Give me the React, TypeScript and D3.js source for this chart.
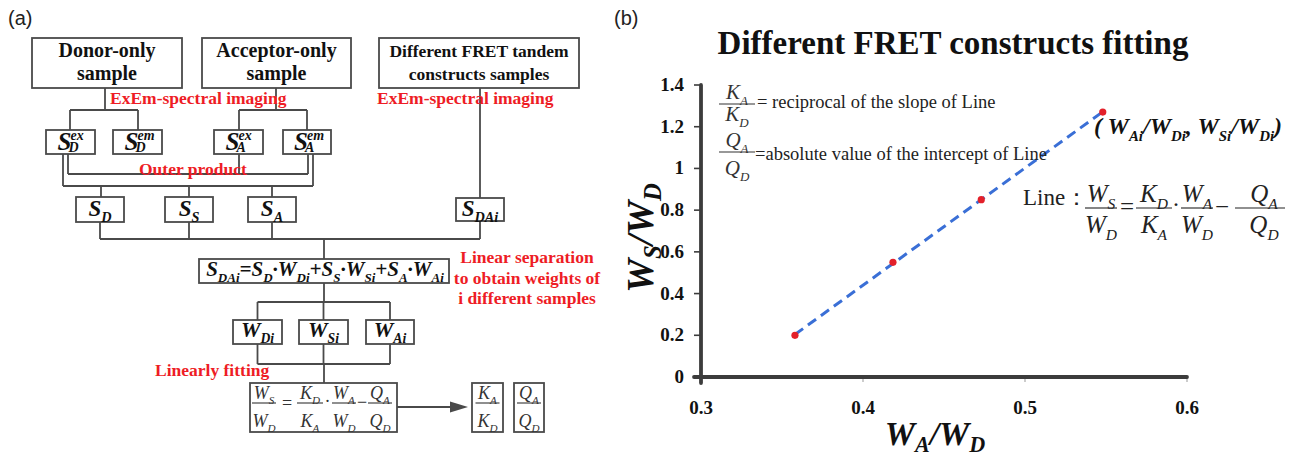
import React from "react";
import * as d3 from "d3";

// ---------- data (panel b) ----------
const pointsX = [0.358, 0.4185, 0.473, 0.548];
const pointsY = [0.2, 0.55, 0.85, 1.27];
const xTickValues = [0.3, 0.4, 0.5, 0.6];
const xTickLabels = ["0.3", "0.4", "0.5", "0.6"];
const yTickValues = [0, 0.2, 0.4, 0.6, 0.8, 1, 1.2, 1.4];
const yTickLabels = ["0", "0.2", "0.4", "0.6", "0.8", "1", "1.2", "1.4"];
const chartTitle = "Different FRET constructs fitting";

const SERIF = "Liberation Serif";
const SANS = "Liberation Sans";
const RED = "#ee1c25";
const STROKE = "#4a4a4a";

type Part = [string, string?];

function Rich(props: any) {
  const {
    x, y, parts, size, anchor = "start", weight = "normal", italic = false,
    fill = "#111", subScale = 0.62, subDy = 0.28, supDy = -0.4, family = SERIF, transform,
  } = props;
  let cur = 0;
  return (
    <text x={x} y={y} textAnchor={anchor} fontFamily={family} fontSize={size}
      fontWeight={weight} fontStyle={italic ? "italic" : "normal"} fill={fill} transform={transform}>
      {parts.map((p: Part, i: number) => {
        const k = p[1] || "n";
        const target = k === "b" ? subDy * size : k === "p" ? supDy * size : 0;
        const dy = target - cur;
        cur = target;
        return (
          <tspan key={i} dy={dy} fontSize={k === "n" ? size : size * subScale}>{p[0]}</tspan>
        );
      })}
    </text>
  );
}

function Frac(props: any) {
  const { cx, barY, w, num, den, size, numY, denY, fill = "#222", weight = "normal", tx = 0, denWeight } = props;
  return (
    <g>
      <Rich x={cx + tx} y={numY} parts={num} size={size} anchor="middle" italic weight={weight} fill={fill} />
      <line x1={cx - w / 2} x2={cx + w / 2} y1={barY} y2={barY} stroke={fill} strokeWidth={1.1} />
      <Rich x={cx + tx} y={denY} parts={den} size={size} anchor="middle" italic weight={denWeight || weight} fill={fill} />
    </g>
  );
}

function Box({ x1, y1, x2, y2 }: any) {
  return <rect x={x1} y={y1} width={x2 - x1} height={y2 - y1} fill="#fff" stroke={STROKE} strokeWidth={1.8} />;
}

function SLabel({ cx, by, sup, sub }: any) {
  return (
    <g fontFamily={SERIF} fontWeight="bold" fontStyle="italic" fill="#111">
      <text x={cx - 13} y={by} fontSize={25}>S</text>
      <text x={cx + 0} y={by - 10} fontSize={14}>{sup}</text>
      <text x={cx - 2} y={by + 2} fontSize={14}>{sub}</text>
    </g>
  );
}

function PanelA() {
  const L = (x1: number, y1: number, x2: number, y2: number, k: string) => (
    <line key={k} x1={x1} y1={y1} x2={x2} y2={y2} stroke={STROKE} strokeWidth={1.8} />
  );
  const lines = [
    [105, 88, 105, 110], [70, 110, 138, 110], [70, 110, 70, 130], [138, 110, 138, 130],
    [276, 88, 276, 110], [239, 110, 307, 110], [239, 110, 239, 130], [307, 110, 307, 130],
    [480, 88, 480, 198],
    [63, 154, 63, 186], [313, 154, 313, 186], [63, 186, 313, 186],
    [68, 154, 68, 174], [308, 154, 308, 174], [68, 174, 308, 174], [239, 154, 239, 174],
    [101, 186, 101, 197], [189, 186, 189, 197], [272, 186, 272, 197],
    [100, 222, 100, 239], [189, 222, 189, 239], [272, 222, 272, 239], [480, 221, 480, 239],
    [100, 239, 480, 239], [324, 239, 324, 259],
    [324, 283, 324, 302], [257.5, 302, 390, 302],
    [257.5, 302, 257.5, 320], [323.5, 302, 323.5, 320], [390, 302, 390, 320],
    [257.5, 344, 257.5, 364], [323.5, 344, 323.5, 364], [390, 344, 390, 364],
    [257.5, 364, 390, 364], [324, 364, 324, 383],
    [397, 407, 452, 407],
  ];
  return (
    <g>
      <text x={8} y={25} fontFamily={SANS} fontSize={20} fill="#222">(a)</text>
      {lines.map((l, i) => L(l[0], l[1], l[2], l[3], "l" + i))}
      <polygon points="450,401.5 468,407 450,412.5" fill={STROKE} />

      <Box x1={32} y1={38} x2={182} y2={88} />
      <Box x1={202} y1={38} x2={351} y2={88} />
      <Box x1={379} y1={38} x2={579} y2={88} />
      <g fontFamily={SERIF} fontWeight="bold" fill="#111" textAnchor="middle">
        <text x={107} y={57} fontSize={20}>Donor-only</text>
        <text x={107} y={80} fontSize={20}>sample</text>
        <text x={276.5} y={57} fontSize={20}>Acceptor-only</text>
        <text x={276.5} y={80} fontSize={20}>sample</text>
        <text x={479} y={57} fontSize={17.5}>Different FRET tandem</text>
        <text x={479} y={80} fontSize={17.5}>constructs samples</text>
      </g>

      <g fontFamily={SERIF} fontWeight="bold" fill={RED} fontSize={17.5}>
        <text x={110} y={104}>ExEm-spectral imaging</text>
        <text x={377} y={104}>ExEm-spectral imaging</text>
        <text x={139} y={175}>Outer product</text>
        <text x={155} y={376}>Linearly fitting</text>
        <text x={527} y={263} textAnchor="middle">Linear separation</text>
        <text x={527} y={284} textAnchor="middle">to obtain weights of</text>
        <text x={527} y={304} textAnchor="middle">i different samples</text>
      </g>

      <Box x1={46} y1={130} x2={95} y2={154} />
      <Box x1={113} y1={130} x2={162} y2={154} />
      <Box x1={214} y1={130} x2={263} y2={154} />
      <Box x1={283} y1={130} x2={331} y2={154} />
      <SLabel cx={70.5} by={150} sup="ex" sub="D" />
      <SLabel cx={137.5} by={150} sup="em" sub="D" />
      <SLabel cx={238.5} by={150} sup="ex" sub="A" />
      <SLabel cx={307} by={150} sup="em" sub="A" />

      <Box x1={76} y1={197} x2={124} y2={222} />
      <Box x1={165} y1={197} x2={213} y2={222} />
      <Box x1={248} y1={197} x2={296} y2={222} />
      <Box x1={456} y1={198} x2={504} y2={221} />
      <Rich x={100} y={216} parts={[["S"], ["D", "b"]]} size={23} anchor="middle" italic weight="bold" />
      <Rich x={189} y={216} parts={[["S"], ["S", "b"]]} size={23} anchor="middle" italic weight="bold" />
      <Rich x={272} y={216} parts={[["S"], ["A", "b"]]} size={23} anchor="middle" italic weight="bold" />
      <Rich x={480} y={216} parts={[["S"], ["DAi", "b"]]} size={23} anchor="middle" italic weight="bold" />

      <Box x1={199} y1={259} x2={449} y2={283} />
      <Rich x={325} y={276} size={21} anchor="middle" italic weight="bold"
        parts={[["S"], ["DAi", "b"], ["=S"], ["D", "b"], ["·W"], ["Di", "b"], ["+S"], ["S", "b"], ["·W"], ["Si", "b"], ["+S"], ["A", "b"], ["·W"], ["Ai", "b"]]} />

      <Box x1={233} y1={320} x2={282} y2={344} />
      <Box x1={299} y1={320} x2={348} y2={344} />
      <Box x1={366} y1={320} x2={414} y2={344} />
      <Rich x={257.5} y={337} parts={[["W"], ["Di", "b"]]} size={22} anchor="middle" italic weight="bold" />
      <Rich x={323.5} y={337} parts={[["W"], ["Si", "b"]]} size={22} anchor="middle" italic weight="bold" />
      <Rich x={390} y={337} parts={[["W"], ["Ai", "b"]]} size={22} anchor="middle" italic weight="bold" />

      <Box x1={250} y1={383} x2={397} y2={432} />
      <Frac cx={264} barY={403} w={24} numY={399} denY={427} size={18} fill="#333" num={[["W"], ["S", "b"]]} den={[["W"], ["D", "b"]]} />
      <text x={287} y={409} fontFamily={SERIF} fontSize={18} fill="#333" textAnchor="middle">=</text>
      <Frac cx={310} barY={403} w={26} numY={399} denY={427} size={18} fill="#333" num={[["K"], ["D", "b"]]} den={[["K"], ["A", "b"]]} />
      <text x={327.5} y={407} fontFamily={SERIF} fontSize={18} fill="#333" textAnchor="middle">·</text>
      <Frac cx={344} barY={403} w={24} numY={399} denY={427} size={18} fill="#333" num={[["W"], ["A", "b"]]} den={[["W"], ["D", "b"]]} />
      <text x={362} y={408} fontFamily={SERIF} fontSize={18} fill="#333" textAnchor="middle">−</text>
      <Frac cx={380} barY={403} w={24} numY={399} denY={427} size={18} fill="#333" num={[["Q"], ["A", "b"]]} den={[["Q"], ["D", "b"]]} />

      <Box x1={472} y1={383} x2={503} y2={432} />
      <Box x1={514} y1={383} x2={544} y2={432} />
      <Frac cx={487.5} barY={403} w={24} numY={399} denY={427} size={18} fill="#333" num={[["K"], ["A", "b"]]} den={[["K"], ["D", "b"]]} />
      <Frac cx={529} barY={403} w={24} numY={399} denY={427} size={18} fill="#333" num={[["Q"], ["A", "b"]]} den={[["Q"], ["D", "b"]]} />
    </g>
  );
}

function PanelB() {
  const x = d3.scaleLinear().domain([0.3, 0.6]).range([701, 1187]);
  const y = d3.scaleLinear().domain([0, 1.4]).range([377, 85]);
  const pts = pointsX.map((v, i) => [v, pointsY[i]] as [number, number]);
  const mx = d3.mean(pointsX) as number;
  const my = d3.mean(pointsY) as number;
  const slope = (d3.sum(pts, (p) => (p[0] - mx) * (p[1] - my)) as number) /
    (d3.sum(pts, (p) => (p[0] - mx) ** 2) as number);
  const icpt = my - slope * mx;
  const [x0, x1] = d3.extent(pointsX) as [number, number];
  const fit = d3.line<number>().x((v) => x(v)).y((v) => y(slope * v + icpt));
  const axisColor = "#3c3c3c";
  return (
    <g>
      <text x={614} y={25} fontFamily={SANS} fontSize={20} fill="#222">(b)</text>
      <text x={953} y={54} textAnchor="middle" fontFamily={SERIF} fontWeight="bold" fontSize={33} fill="#111">{chartTitle}</text>

      {yTickValues.map((v, i) => (
        <g key={"yt" + i}>
          <line x1={694} x2={x(0.3)} y1={y(v)} y2={y(v)} stroke={axisColor} strokeWidth={1.6} />
          <text x={684} y={y(v) + 6} textAnchor="end" fontFamily={SERIF} fontWeight="bold" fontSize={19} fill="#111">{yTickLabels[i]}</text>
        </g>
      ))}
      {xTickValues.map((v, i) => (
        <g key={"xt" + i}>
          <line x1={x(v)} x2={x(v)} y1={y(0)} y2={y(0) + 5} stroke="#999" strokeWidth={1} />
          <text x={x(v)} y={414} textAnchor="middle" fontFamily={SERIF} fontWeight="bold" fontSize={19} fill="#111">{xTickLabels[i]}</text>
        </g>
      ))}
      <line x1={694} x2={x(0.6)} y1={y(0)} y2={y(0)} stroke={axisColor} strokeWidth={3.8} strokeLinecap="round" />
      <line x1={x(0.3)} x2={x(0.3)} y1={y(1.4)} y2={y(0) + 6} stroke={axisColor} strokeWidth={3.8} strokeLinecap="round" />

      <path d={fit([x0, x1]) || ""} fill="none" stroke="#3a6fd6" strokeWidth={3} strokeDasharray="10,6" />
      {pts.map((p, i) => (
        <circle key={"p" + i} cx={x(p[0])} cy={y(p[1])} r={3.6} fill="#e3202a" />
      ))}

      <Rich x={935} y={445} parts={[["W"], ["A", "b"], ["/W"], ["D", "b"]]} size={34} anchor="middle" italic weight="bold" subScale={0.65} subDy={0.22} />
      <Rich x={0} y={0} transform="translate(653,238) rotate(-90)" parts={[["W"], ["S", "b"], ["/W"], ["D", "b"]]} size={38} anchor="middle" italic weight="bold" subScale={0.65} subDy={0.22} />

      <Frac cx={737} barY={104} w={36} numY={99} denY={121} size={21} fill="#333" num={[["K"], ["A", "b"]]} den={[["K"], ["D", "b"]]} />
      <text x={757} y={108} fontFamily={SERIF} fontSize={18.5} fill="#222">= reciprocal of the slope of Line</text>
      <Frac cx={737} barY={152} w={36} numY={147} denY={175} size={21} fill="#333" num={[["Q"], ["A", "b"]]} den={[["Q"], ["D", "b"]]} />
      <text x={755} y={160} fontFamily={SERIF} fontSize={18.5} fill="#222">=absolute value of the intercept of Line</text>

      <Rich x={1094} y={134} size={24} italic weight="bold"
        parts={[["( W"], ["Ai", "b"], ["/W"], ["Di", "b"], [", W"], ["Si", "b"], ["/W"], ["Di", "b"], [")"]]} />

      <text x={1023} y={205} fontFamily={SERIF} fontSize={23} fill="#222">Line：</text>
      <Frac cx={1101} barY={208} w={32} numY={202} denY={233} size={25} num={[["W"], ["S", "b"]]} den={[["W"], ["D", "b"]]} />
      <text x={1127} y={215} textAnchor="middle" fontFamily={SERIF} fontSize={25} fill="#222">=</text>
      <Frac cx={1154} barY={208} w={36} numY={202} denY={233} size={25} num={[["K"], ["D", "b"]]} den={[["K"], ["A", "b"]]} />
      <text x={1176} y={212} textAnchor="middle" fontFamily={SERIF} fontSize={24} fill="#222">·</text>
      <Frac cx={1197} barY={208} w={32} numY={202} denY={233} size={25} num={[["W"], ["A", "b"]]} den={[["W"], ["D", "b"]]} />
      <text x={1222} y={215} textAnchor="middle" fontFamily={SERIF} fontSize={25} fill="#222">−</text>
      <Frac cx={1260} barY={208} w={50} tx={4} numY={202} denY={233} size={25} num={[["Q"], ["A", "b"]]} den={[["Q"], ["D", "b"]]} />
    </g>
  );
}

export default function App() {
  return (
    <svg width={1297} height={459} viewBox="0 0 1297 459"
      style={{ position: "absolute", left: 0, top: 0, background: "#fff" }}>
      <rect x={0} y={0} width={1297} height={459} fill="#fff" />
      <PanelA />
      <PanelB />
    </svg>
  );
}
